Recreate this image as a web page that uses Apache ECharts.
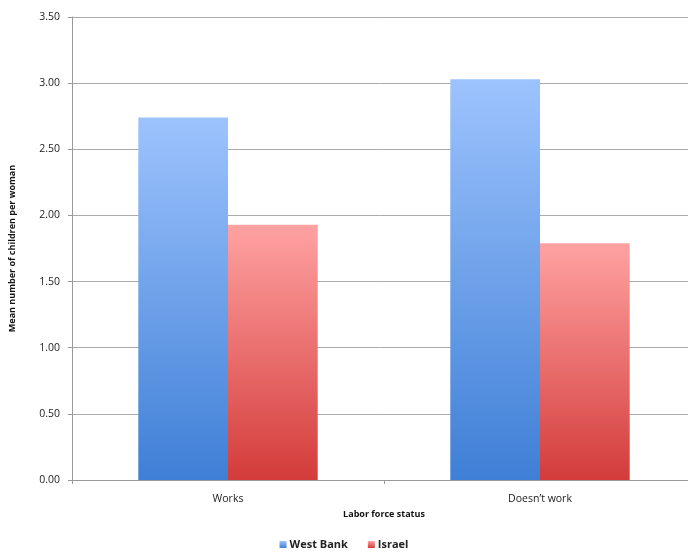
<!DOCTYPE html>
<html>
<head>
<meta charset="utf-8">
<script src="https://cdn.jsdelivr.net/npm/echarts@6/dist/echarts.min.js"></script>
<style>
    html, body {margin: 0; padding: 0; background: #fff;}
    #chart {width: 688px; height: 556px;}
</style>
</head>
<body>
<div id="chart"></div>
<script>
var categories = ['Works', 'Doesn\u2019t work'];
var westBank = [2.74, 3.03];
var israel = [1.93, 1.79];
var yTicks = ['0.00', '0.50', '1.00', '1.50', '2.00', '2.50', '3.00', '3.50'];

var myChart = echarts.init(document.getElementById('chart'));

function grad(top, bottom) {
    return new echarts.graphic.LinearGradient(0, 0, 0, 1, [
        {offset: 0, color: top},
        {offset: 1, color: bottom}
    ]);
}

var option = {
    backgroundColor: '#fff',
    animation: false,
    textStyle: {fontFamily: 'Open Sans'},
    grid: {left: 72, top: 17, bottom: 76, width: 624, outerBoundsMode: 'none', containLabel: false},
    legend: {
        data: ['West Bank', 'Israel'],
        bottom: 1,
        left: 'center',
        itemWidth: 7,
        itemHeight: 7,
        itemGap: 20,
        icon: 'rect',
        textStyle: {fontSize: 11, fontWeight: 'bold', color: '#222', padding: [0, 0, 0, -2]}
    },
    xAxis: {
        type: 'category',
        data: categories,
        name: 'Labor force status',
        nameLocation: 'middle',
        nameGap: 27,
        nameTextStyle: {fontSize: 9, fontWeight: 'bold', color: '#111'},
        axisLine: {lineStyle: {color: '#999'}},
        axisTick: {show: true, length: 4, lineStyle: {color: '#999'}},
        axisLabel: {fontSize: 10.5, color: '#222', margin: 14}
    },
    yAxis: {
        type: 'value',
        min: 0,
        max: 3.5,
        interval: 0.5,
        name: 'Mean number of children per woman',
        nameLocation: 'middle',
        nameGap: 55,
        nameTextStyle: {fontSize: 9, fontWeight: 'bold', color: '#111'},
        axisLine: {show: true, lineStyle: {color: '#999'}},
        axisTick: {show: true, length: 4, lineStyle: {color: '#999'}},
        splitLine: {lineStyle: {color: '#aaa', width: 1}},
        axisLabel: {
            fontSize: 10.5,
            color: '#222',
            margin: 12,
            formatter: function (v) {
                return yTicks[Math.round(v / 0.5)];
            }
        }
    },
    series: [
        {
            name: 'West Bank',
            type: 'bar',
            data: westBank,
            barGap: '0%',
            barCategoryGap: '42.5%',
            itemStyle: {color: grad('#9dc3fd', '#3f7fd6')}
        },
        {
            name: 'Israel',
            type: 'bar',
            data: israel,
            itemStyle: {color: grad('#ffa2a2', '#d33c3a')}
        }
    ]
};

myChart.setOption(option);
</script>
</body>
</html>
